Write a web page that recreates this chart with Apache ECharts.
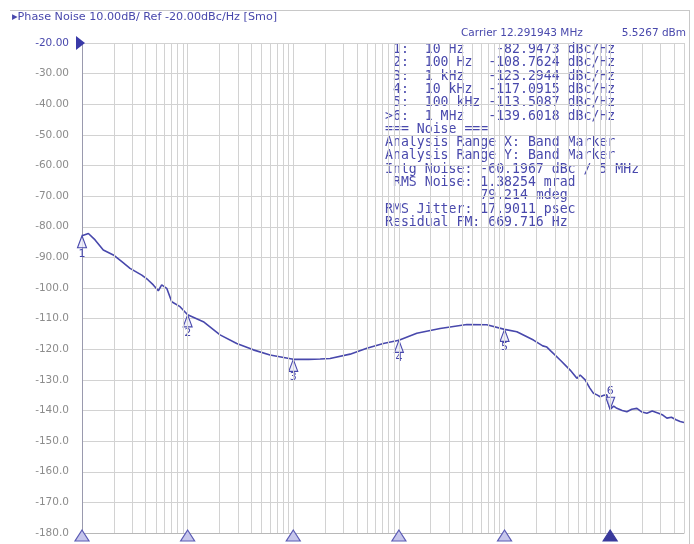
<!DOCTYPE html>
<html><head><meta charset="utf-8">
<script src="https://cdn.jsdelivr.net/npm/echarts@6/dist/echarts.min.js"></script>
<style>html,body{margin:0;padding:0;background:#fff}#c{width:694px;height:544px}</style>
</head><body><div id="c"></div>
<script>
// ---- data ----
const freqHz = [10, 11.5, 13.3, 15.9, 19.8, 24, 28.5, 36.8, 42, 47.3, 52.8, 56.8, 63.4, 70.7, 84.7, 100,
  140.8, 202.7, 291.7, 418.8, 602.6, 1000, 1400, 1800, 2230, 3450, 4970, 7130, 10000, 14770, 24550,
  43950, 67920, 100000, 130800, 187800, 230000, 251600, 275000, 336200, 418000, 455000, 483900, 519900,
  579900, 640000, 695100, 750000, 804000, 870000, 930700, 960000, 1000000, 1080000, 1157000, 1300000,
  1439000, 1600000, 1791000, 2000000, 2226000, 2500000, 2867000, 3150000, 3443000, 3800000, 4200000,
  4600000, 5000000];
const phaseNoise = [-82.95, -82.2, -84.3, -87.6, -89.2, -91.5, -93.6, -95.8, -97.3, -99.0, -100.9, -99.0,
  -100.1, -104.5, -106.1, -108.76, -111.0, -115.3, -118.1, -120.2, -121.9, -123.29, -123.3, -123.2, -123.0,
  -121.6, -119.7, -118.1, -117.09, -114.8, -113.2, -111.9, -112.0, -113.51, -114.3, -117.0, -118.9, -119.3,
  -120.6, -123.5, -126.8, -128.3, -129.5, -128.4, -130.0, -132.6, -134.4, -134.9, -135.5, -135.0, -134.9,
  -137.5, -139.6, -138.6, -139.3, -140.0, -140.4, -139.6, -139.3, -140.5, -140.9, -140.2, -140.9, -141.5,
  -142.5, -142.2, -143.0, -143.6, -143.9];
const markerFreqs = [10, 100, 1000, 10000, 100000, 1000000];
const markerValues = [-82.9473, -108.7624, -123.2944, -117.0915, -113.5087, -139.6018];
const markerNames = ['1', '2', '3', '4', '5', '6'];
const activeMarker = 5;
const yMin = -180, yMax = -20, yStep = 10;
const xMin = 10, xMax = 5000000;
const gridMultipliers = [1, 2, 3, 4, 5, 6, 7, 8, 9];
const gridDecades = [10, 100, 1000, 10000, 100000, 1000000];
const titleText = '\u25B8Phase Noise 10.00dB/ Ref -20.00dBc/Hz [Smo]';
const carrierText = 'Carrier 12.291943 MHz';
const carrierPower = '5.5267 dBm';
const tableLines = [
  ' 1:  10 Hz    -82.9473 dBc/Hz',
  ' 2:  100 Hz  -108.7624 dBc/Hz',
  ' 3:  1 kHz   -123.2944 dBc/Hz',
  ' 4:  10 kHz  -117.0915 dBc/Hz',
  ' 5:  100 kHz -113.5087 dBc/Hz',
  '>6:  1 MHz   -139.6018 dBc/Hz',
  '=== Noise ===',
  'Analysis Range X: Band Marker',
  'Analysis Range Y: Band Marker',
  'Intg Noise: -60.1967 dBc / 5 MHz',
  ' RMS Noise: 1.38254 mrad',
  '            79.214 mdeg',
  'RMS Jitter: 17.9011 psec',
  'Residual FM: 669.716 Hz'
];

// ---- build ----
const BLUE = '#4848ac';
const GRID = '#d2d2d2';
const gridFreqs = [];
gridDecades.forEach(d => gridMultipliers.forEach(m => { const f = d * m; if (f > xMin && f <= xMax) gridFreqs.push(f); }));
const curve = freqHz.map((f, i) => [f, phaseNoise[i]]);
const markers = markerFreqs.map((f, i) => [f, markerValues[i], i]);

const chart = echarts.init(document.getElementById('c'), null, {renderer: 'canvas'});
const option = {
  animation: false,
  backgroundColor: '#fff',
  grid: {left: 82, right: 10, top: 43, bottom: 11, containLabel: false},
  xAxis: {
    type: 'log', logBase: 10, min: xMin, max: xMax,
    axisLine: {show: true, onZero: false, lineStyle: {color: '#b8b8b8'}},
    axisTick: {show: false}, axisLabel: {show: false}, splitLine: {show: false}
  },
  yAxis: {
    type: 'value', min: yMin, max: yMax, interval: yStep,
    axisLine: {show: true, lineStyle: {color: '#9a9aae', width: 1}},
    axisTick: {show: false},
    splitLine: {show: true, lineStyle: {color: GRID, width: 1}},
    axisLabel: {
      margin: 13, fontFamily: 'DejaVu Sans', fontSize: 10.5,
      color: v => (Number(v) === yMax ? BLUE : '#8c8c8c'),
      formatter: v => (v > -100 ? v.toFixed(2) : v.toFixed(1))
    }
  },
  series: [
    {
      type: 'line', data: [], z: 1, silent: true,
      markLine: {
        silent: true, symbol: 'none', animation: false,
        label: {show: false},
        lineStyle: {color: GRID, width: 1, type: 'solid'},
        data: gridFreqs.map(f => ({xAxis: f}))
      }
    },
    {
      type: 'line', data: curve, z: 3, showSymbol: false, smooth: false,
      lineStyle: {color: BLUE, width: 1.6}, silent: true
    },
    {
      type: 'custom', z: 4, data: markers, silent: true,
      renderItem: (params, api) => {
        const p = api.coord([api.value(0), api.value(1)]);
        const idx = api.value(2);
        const inv = idx === activeMarker;
        const s = inv ? -1 : 1;
        return {
          type: 'group', children: [
            {type: 'polygon', shape: {points: [[p[0], p[1]], [p[0] - 4.5, p[1] + s * 12], [p[0] + 4.5, p[1] + s * 12]]},
              style: {fill: 'rgba(235,235,250,0.8)', stroke: BLUE, lineWidth: 1.1}},
            {type: 'text', x: p[0], y: p[1] + s * 18,
              style: {text: markerNames[idx], fill: BLUE, fontSize: 11, fontFamily: 'DejaVu Sans', align: 'center', verticalAlign: 'middle'}}
          ]
        };
      }
    },
    {
      type: 'custom', z: 5, data: markers, silent: true, clip: false,
      renderItem: (params, api) => {
        const p = api.coord([api.value(0), yMin]);
        const idx = api.value(2);
        const act = idx === activeMarker;
        return {type: 'polygon', shape: {points: [[p[0], p[1] - 3], [p[0] - 7, p[1] + 8], [p[0] + 7, p[1] + 8]]},
          style: {fill: act ? '#3a3a9c' : '#c6c6ec', stroke: act ? '#3a3a9c' : '#5a5ab4', lineWidth: 1.2}};
      }
    },
    {
      type: 'custom', z: 5, data: [[xMin, yMax]], silent: true, clip: false,
      renderItem: (params, api) => {
        const p = api.coord([api.value(0), api.value(1)]);
        return {type: 'polygon', shape: {points: [[p[0] - 6, p[1] - 7], [p[0] + 3, p[1]], [p[0] - 6, p[1] + 7]]},
          style: {fill: '#3a3aa8'}};
      }
    }
  ],
  graphic: [
    {type: 'line', shape: {x1: 10, y1: 10.5, x2: 690, y2: 10.5}, style: {stroke: '#c8c8c8', lineWidth: 1}, silent: true},
    {type: 'line', shape: {x1: 689.5, y1: 10, x2: 689.5, y2: 544}, style: {stroke: '#c8c8c8', lineWidth: 1}, silent: true},
    {type: 'text', left: 12, top: 12, style: {text: titleText, fill: BLUE, fontSize: 11.2, fontFamily: 'DejaVu Sans'}},
    {type: 'text', left: 461, top: 28, style: {text: carrierText, fill: BLUE, fontSize: 10.5, fontFamily: 'DejaVu Sans'}},
    {type: 'text', right: 8, top: 28, style: {text: carrierPower, fill: BLUE, fontSize: 10.5, fontFamily: 'DejaVu Sans'}},
    {type: 'text', left: 385, top: 43, style: {text: tableLines.join('\n'), fill: BLUE, fontSize: 13.2, lineHeight: 13.3, fontFamily: 'DejaVu Sans Mono'}}
  ]
};
chart.setOption(option);
</script></body></html>
